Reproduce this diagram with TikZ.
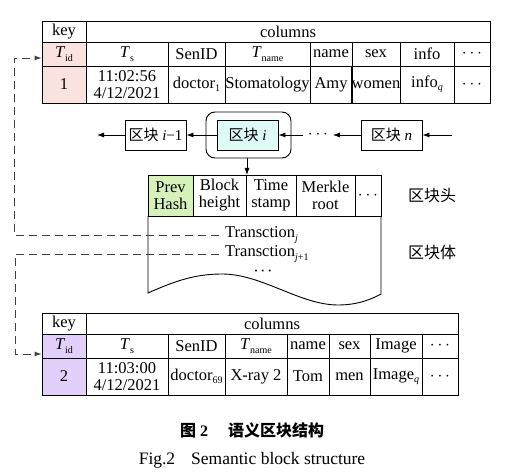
\documentclass[tikz,border=0pt]{standalone}
\usepackage{fontspec}
\setmainfont{Liberation Serif}
\newfontfamily\cjk{Noto Sans CJK SC}
\usetikzlibrary{arrows.meta}
\definecolor{pinkc}{RGB}{250,226,222}
\definecolor{purplec}{RGB}{226,208,250}
\definecolor{greenc}{RGB}{214,242,186}
\definecolor{cyanc}{RGB}{222,250,246}
\newcommand\sbs[1]{\raisebox{-0.45ex}{\fontsize{10}{10}\selectfont #1}}
\newcommand\tsub[2]{\textit{#1}\sbs{#2}}
\newcommand\mkcell[7][]{%
  \pgfmathsetmacro\cx{(#3+#4)/2}\pgfmathsetmacro\cy{(#5+#6)/2}%
  \pgfmathsetmacro\cw{#4-#3}\pgfmathsetmacro\ch{#6-#5}%
  \node[cell,#1,minimum width=\cw pt,minimum height=\ch pt] (#2) at (\cx,\cy) {#7};}
\begin{document}
\begin{tikzpicture}[x=1pt,y=-1pt,
  cell/.style={draw=black, line width=0.9pt, inner sep=0pt, align=center,
    font=\fontsize{16.5}{17}\selectfont},
  chain/.style={font=\fontsize{15}{16}\selectfont},
  arr/.style={line width=0.9pt, -{Latex[length=7pt,width=5pt]}},
  dsh/.style={line width=0.9pt, black!75, dash pattern=on 8pt off 5pt, -{Latex[length=7pt,width=5pt]}},
  lab/.style={font=\cjk\fontsize{16}{17}\selectfont}]
\useasboundingbox (0,0) rectangle (507,476);
% ---------- top table ----------
\mkcell{tk}{42}{86}{21}{42}{key}
\mkcell{tc}{86}{490}{21}{42}{columns}
\mkcell[fill=pinkc]{tid1}{42}{86}{42}{66}{\tsub{T}{id}}
\mkcell{ts1}{86}{168}{42}{66}{\tsub{T}{s}}
\mkcell{sen1}{168}{225}{42}{66}{SenID}
\mkcell{tn1}{225}{310}{42}{66}{\tsub{T}{name}}
\mkcell{nm1}{310}{352}{42}{66}{name}
\mkcell{sx1}{352}{400}{42}{66}{sex}
\mkcell{if1}{400}{454}{42}{66}{info}
\mkcell{dt1}{454}{490}{42}{66}{$\cdots$}
\mkcell[fill=pinkc]{v1}{42}{86}{66}{103}{1}
\mkcell{vt1}{86}{168}{66}{103}{11:02:56\\4/12/2021}
\mkcell{vs1}{168}{225}{66}{103}{doctor\sbs{1}}
\mkcell{vn1}{225}{310}{66}{103}{Stomatology}
\mkcell{va1}{310}{352}{66}{103}{Amy}
\mkcell{vx1}{352}{400}{66}{103}{women}
\mkcell{vi1}{400}{454}{66}{103}{info\sbs{\textit{q}}}
\mkcell{vd1}{454}{490}{66}{103}{$\cdots$}
% ---------- chain ----------
\node[draw, line width=0.9pt, rounded corners=9pt, minimum width=85pt, minimum height=46pt] (bo) at (248.5,135) {};
\mkcell[fill=cyanc,chain]{bi}{217}{278}{120}{150}{{\cjk 区块} \textit{i}}
\mkcell[chain]{bim}{125}{186}{120}{150}{{\cjk 区块} \textit{i}−1}
\mkcell[chain]{bn}{361}{422}{120}{150}{{\cjk 区块} \textit{n}}
\node[inner sep=4.5pt, font=\fontsize{16}{17}\selectfont] (cd) at (318,135) {$\cdots$};
\coordinate (ar) at (452,135);
\coordinate (al) at (97,135);
\draw[arr] (ar) -- (bn.east);
\draw[arr] (bn.west) -- (cd.east);
\draw[arr] (cd.west) -- (bi.east);
\draw[arr] (bi.west) -- (bim.east);
\draw[arr] (bim.west) -- (al);
% ---------- header ----------
\mkcell[fill=greenc]{h1}{148}{193}{175}{216}{Prev\\Hash}
\mkcell{h2}{193}{246}{175}{216}{Block\\height}
\mkcell{h3}{246}{296}{175}{216}{Time\\stamp}
\mkcell{h4}{296}{355}{175}{216}{Merkle\\root}
\mkcell{h5}{355}{381}{175}{216}{$\cdots$}
\coordinate (hin) at (247,175);
\draw[arr] (bo.south -| hin) -- (hin);
% body
\draw[line width=0.9pt] (148,216) -- (148,293)
  .. controls (175,281) and (195,274) .. (222,274)
  .. controls (262,274) and (300,305) .. (338,305)
  .. controls (358,305) and (372,299) .. (381,294) -- (381,216);
\node[anchor=west, inner sep=6pt, font=\fontsize{16.5}{17}\selectfont] (tj) at (219,235) {Transction\sbs{\textit{j}}};
\node[anchor=west, inner ysep=1pt, inner xsep=6pt, font=\fontsize{16.5}{17}\selectfont] (tj1) at (219,254) {Transction\sbs{\textit{j}+1}};
\node[inner sep=0pt, font=\fontsize{16.5}{17}\selectfont] (tdots) at (263,273) {·\kern1.5pt·\kern1.5pt·};
\node[lab] (lh) at (432,196) {区块头};
\node[lab] (lb) at (432,252) {区块体};
% ---------- bottom table ----------
\mkcell{bk}{42}{86}{313}{334}{key}
\mkcell{bc}{86}{458}{313}{334}{columns}
\mkcell[fill=purplec]{tid2}{42}{86}{334}{358}{\tsub{T}{id}}
\mkcell{ts2}{86}{168}{334}{358}{\tsub{T}{s}}
\mkcell{sen2}{168}{225}{334}{358}{SenID}
\mkcell{tn2}{225}{287}{334}{358}{\tsub{T}{name}}
\mkcell{nm2}{287}{329}{334}{358}{name}
\mkcell{sx2}{329}{370}{334}{358}{sex}
\mkcell{im2}{370}{422}{334}{358}{Image}
\mkcell{dt2}{422}{458}{334}{358}{$\cdots$}
\mkcell[fill=purplec]{v2}{42}{86}{358}{395}{2}
\mkcell{vt2}{86}{168}{358}{395}{11:03:00\\4/12/2021}
\mkcell{vs2}{168}{225}{358}{395}{doctor\sbs{69}}
\mkcell{vn2}{225}{287}{358}{395}{X-ray 2}
\mkcell{va2}{287}{329}{358}{395}{Tom}
\mkcell{vx2}{329}{370}{358}{395}{men}
\mkcell{vi2}{370}{422}{358}{395}{Image\sbs{\textit{q}}}
\mkcell{vd2}{422}{458}{358}{395}{$\cdots$}
% ---------- dashed links ----------
\coordinate (d1a) at (14,235);
\coordinate (d1b) at (14,58);
\coordinate (d2a) at (15,254);
\coordinate (d2b) at (15,354);
\draw[dsh] (tj.west) -- (d1a) -- (d1b) -- (tid1.west |- d1b);
\draw[dsh] (tj1.west) -- (d2a) -- (d2b) -- (tid2.west |- d2b);
% ---------- captions ----------
\node[font=\fontsize{16}{17}\selectfont] (cap1) at (252,430) {{\cjk\bfseries 图} \textbf{2}\hspace{20pt}{\cjk\bfseries 语义区块结构}};
\node[font=\fontsize{17.5}{18}\selectfont] (cap2) at (252,460) {Fig.2\hspace{16pt}Semantic block structure};
\end{tikzpicture}
\end{document}
